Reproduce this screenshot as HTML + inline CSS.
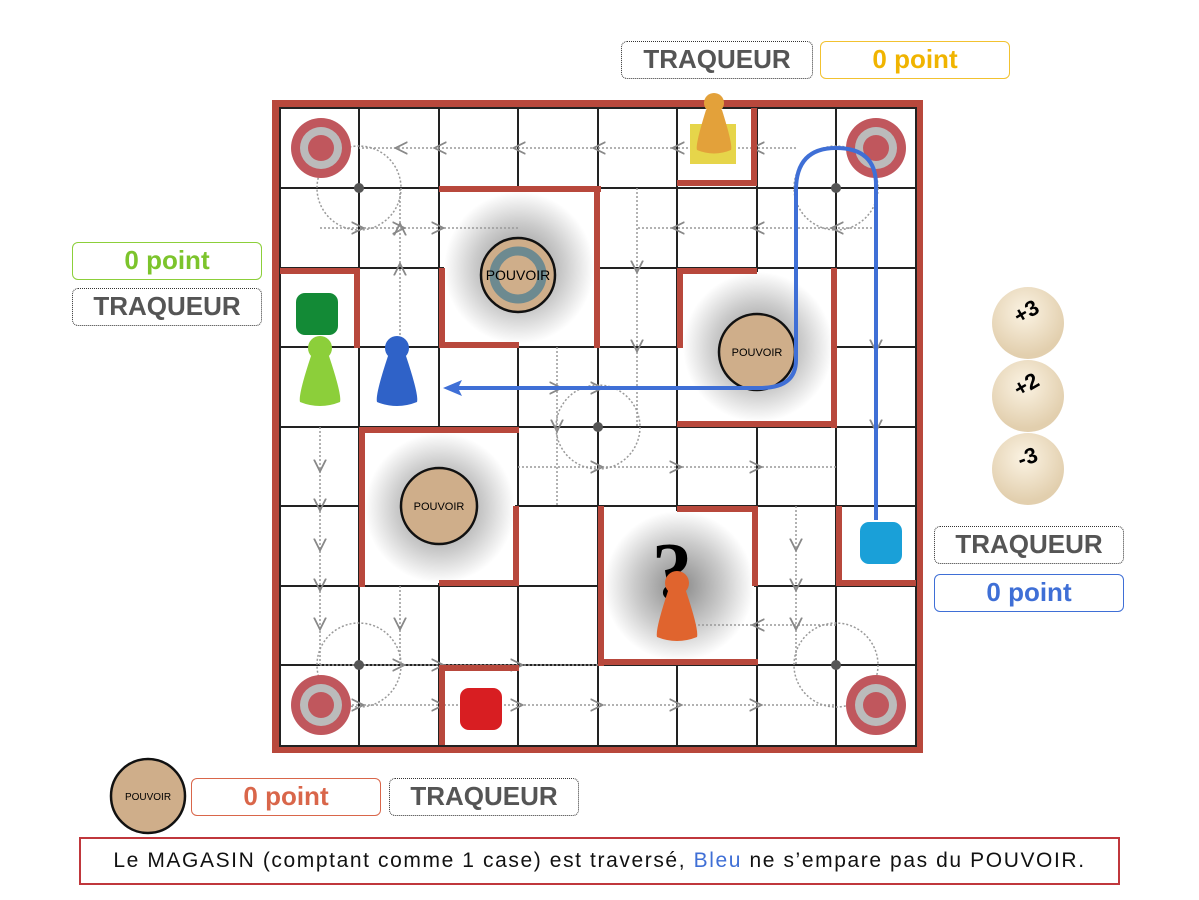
<!DOCTYPE html>
<html><head><meta charset="utf-8"><style>
html,body{margin:0;padding:0;background:#fff;width:1199px;height:900px;overflow:hidden;font-family:"Liberation Sans",sans-serif}
.lb{position:absolute;box-sizing:border-box;border-radius:6px;text-align:center;font-size:26px;line-height:34px;font-weight:bold;}
.tq{border:1.5px dotted #333;color:#555;}
</style></head><body>
<svg width="1199" height="900" style="position:absolute;left:0;top:0">
<defs>
<radialGradient id="sh" cx="50%" cy="50%" r="50%"><stop offset="0" stop-color="#888"/><stop offset="0.6" stop-color="#ccc"/><stop offset="1" stop-color="#fff"/></radialGradient>
<radialGradient id="die" cx="45%" cy="35%" r="60%"><stop offset="0" stop-color="#fbf3e3"/><stop offset="1" stop-color="#e2cfae"/></radialGradient>
<marker id="ah" markerWidth="10" markerHeight="10" refX="5" refY="5" orient="auto"><path d="M0,1 L8,5 L0,9" fill="none" stroke="#888" stroke-width="1.2"/></marker>
</defs>
<rect x="272" y="100" width="651" height="653" fill="#b8483c"/>
<rect x="280" y="108" width="636" height="638" fill="#fff"/>
<g stroke="#222" stroke-width="2">
<line x1="280" y1="188" x2="916" y2="188"/><line x1="280" y1="268" x2="916" y2="268"/><line x1="280" y1="347" x2="916" y2="347"/><line x1="280" y1="427" x2="916" y2="427"/><line x1="280" y1="506" x2="916" y2="506"/><line x1="280" y1="586" x2="916" y2="586"/><line x1="280" y1="665" x2="916" y2="665"/>
<line x1="359" y1="108" x2="359" y2="746"/><line x1="439" y1="108" x2="439" y2="746"/><line x1="518" y1="108" x2="518" y2="746"/><line x1="598" y1="108" x2="598" y2="746"/><line x1="677" y1="108" x2="677" y2="746"/><line x1="757" y1="108" x2="757" y2="746"/><line x1="836" y1="108" x2="836" y2="746"/>
<rect x="280" y="108" width="636" height="638" fill="none"/>
</g>
<rect x="444" y="192" width="150" height="152" fill="url(#sh)"/>
<rect x="683" y="272" width="150" height="150" fill="url(#sh)"/>
<rect x="365" y="433" width="150" height="150" fill="url(#sh)"/>
<rect x="604" y="511" width="150" height="150" fill="url(#sh)"/>
<g stroke="#999" stroke-width="1.5" stroke-dasharray="2 2" fill="none" marker-mid="url(#ah)">
<polyline points="796,148 757,148 677,148 598,148 518,148 439,148 400,148 359,148"/>
<polyline points="320,228 359,228 400,228 439,228 518,228"/>
<polyline points="400,347 400,268 400,228 400,188"/>
<polyline points="320,427 320,467 320,506 320,546 320,586 320,625 320,665"/>
<polyline points="320,665 400,665 439,665 518,665 598,665"/>
<polyline points="320,705 359,705 439,705 518,705 598,705 677,705 757,705 836,705"/>
<polyline points="518,467 598,467 677,467 757,467 836,467"/>
<polyline points="836,625 757,625 677,625"/>
<polyline points="796,506 796,546 796,586 796,625 796,665"/>
<polyline points="876,228 836,228 757,228 677,228 637,228"/>
<polyline points="637,188 637,268 637,347 637,427"/>
<polyline points="557,347 557,427 557,506"/>
<polyline points="400,586 400,625 400,665"/>
<polyline points="876,268 876,347 876,427 876,467"/>
<polyline points="518,388 557,388 598,388 637,388"/>
</g>
<g stroke="#999" stroke-width="1.5" stroke-dasharray="2 2" fill="none">
<circle cx="359" cy="188" r="42"/><circle cx="836" cy="188" r="42"/><circle cx="359" cy="665" r="42"/><circle cx="836" cy="665" r="42"/>
<circle cx="598" cy="427" r="42"/>
</g>
<g fill="#555"><circle cx="359" cy="188" r="5"/><circle cx="836" cy="188" r="5"/><circle cx="359" cy="665" r="5"/><circle cx="836" cy="665" r="5"/><circle cx="598" cy="427" r="5"/></g>
<g fill="#b8483c">
<rect x="439" y="186" width="162" height="6"/><rect x="594" y="186" width="6" height="162"/><rect x="439" y="268" width="6" height="80"/><rect x="439" y="342" width="80" height="6"/>
<rect x="677" y="180" width="80" height="6"/><rect x="751" y="108" width="6" height="78"/>
<rect x="280" y="268" width="80" height="6"/><rect x="354" y="268" width="6" height="80"/>
<rect x="677" y="268" width="80" height="6"/><rect x="677" y="268" width="6" height="80"/><rect x="831" y="268" width="6" height="160"/><rect x="677" y="421" width="160" height="6"/>
<rect x="359" y="427" width="160" height="6"/><rect x="359" y="427" width="6" height="160"/><rect x="513" y="506" width="6" height="80"/><rect x="439" y="580" width="80" height="6"/>
<rect x="677" y="506" width="80" height="6"/><rect x="752" y="506" width="6" height="80"/><rect x="598" y="506" width="6" height="160"/><rect x="598" y="659" width="160" height="6"/>
<rect x="836" y="506" width="6" height="80"/><rect x="836" y="580" width="80" height="6"/>
<rect x="439" y="665" width="80" height="6"/><rect x="439" y="665" width="6" height="80"/>
</g>
<g><circle cx="321" cy="148" r="30" fill="#c0575d"/><circle cx="321" cy="148" r="21" fill="#bbb"/><circle cx="321" cy="148" r="13" fill="#c0575d"/></g>
<g><circle cx="876" cy="148" r="30" fill="#c0575d"/><circle cx="876" cy="148" r="21" fill="#bbb"/><circle cx="876" cy="148" r="13" fill="#c0575d"/></g>
<g><circle cx="321" cy="705" r="30" fill="#c0575d"/><circle cx="321" cy="705" r="21" fill="#bbb"/><circle cx="321" cy="705" r="13" fill="#c0575d"/></g>
<g><circle cx="876" cy="705" r="30" fill="#c0575d"/><circle cx="876" cy="705" r="21" fill="#bbb"/><circle cx="876" cy="705" r="13" fill="#c0575d"/></g>
<g font-size="11" text-anchor="middle" font-family="Liberation Sans,sans-serif">
<circle cx="518" cy="275" r="37" fill="#cfae8a" stroke="#111" stroke-width="2.5"/><circle cx="518" cy="275" r="24" fill="none" stroke="#6d8a90" stroke-width="9"/><text x="518" y="280" font-size="14">POUVOIR</text>
<circle cx="757" cy="352" r="38" fill="#cfae8a" stroke="#111" stroke-width="2.5"/><text x="757" y="356">POUVOIR</text>
<circle cx="439" cy="506" r="38" fill="#cfae8a" stroke="#111" stroke-width="2.5"/><text x="439" y="510">POUVOIR</text>
<circle cx="148" cy="796" r="37" fill="#cfae8a" stroke="#111" stroke-width="2.5"/><text x="148" y="800" font-size="10">POUVOIR</text>
</g>
<text x="672" y="598" font-size="80" font-family="Liberation Serif,serif" font-weight="bold" text-anchor="middle">?</text>
<rect x="296" y="293" width="42" height="42" rx="9" fill="#138a36"/>
<rect x="460" y="688" width="42" height="42" rx="9" fill="#d81e22"/>
<rect x="860" y="522" width="42" height="42" rx="9" fill="#1aa0d8"/>
<rect x="690" y="124" width="46" height="40" fill="#e6d54a"/>
<path d="M876,520 L876,185 Q876,148 836,148 Q796,148 796,190 L796,360 Q796,388 760,388 L455,388" fill="none" stroke="#3f6fd6" stroke-width="4"/>
<path d="M443,388 L462,380 L458,388 L462,396 Z" fill="#3f6fd6"/>
<g fill="#8ccf3a"><circle cx="320" cy="348" r="12"/><path d="M311,356 Q298,395 300,402 Q320,410 340,402 Q342,395 329,356 Z"/></g>
<g fill="#2f62c8"><circle cx="397" cy="348" r="12"/><path d="M388,356 Q375,395 377,402 Q397,410 417,402 Q419,395 406,356 Z"/></g>
<g fill="#e0642e"><circle cx="677" cy="583" r="12"/><path d="M668,591 Q655,630 657,637 Q677,645 697,637 Q699,630 686,591 Z"/></g>
<g fill="#e3a13a"><circle cx="714" cy="103" r="10"/><path d="M706,110 Q695,145 697,150 Q714,157 731,150 Q733,145 722,110 Z"/></g>
<g font-size="22" font-weight="bold" text-anchor="middle">
<ellipse cx="1028" cy="323" rx="36" ry="36" fill="url(#die)"/><text x="1030" y="318" transform="rotate(-30 1030 318)">+3</text>
<ellipse cx="1028" cy="396" rx="36" ry="36" fill="url(#die)"/><text x="1030" y="391" transform="rotate(-30 1030 391)">+2</text>
<ellipse cx="1028" cy="469" rx="36" ry="36" fill="url(#die)"/><text x="1030" y="464" transform="rotate(-20 1030 464)">-3</text>
</g>
</svg>
<div class="lb tq" style="left:621px;top:41px;width:192px;height:38px">TRAQUEUR</div>
<div class="lb" style="left:820px;top:41px;width:190px;height:38px;border:1.5px solid #f2c230;color:#f0b400">0 point</div>
<div class="lb" style="left:72px;top:242px;width:190px;height:38px;border:1.5px solid #8ccf3a;color:#7cc42c">0 point</div>
<div class="lb tq" style="left:72px;top:288px;width:190px;height:38px">TRAQUEUR</div>
<div class="lb tq" style="left:934px;top:526px;width:190px;height:38px">TRAQUEUR</div>
<div class="lb" style="left:934px;top:574px;width:190px;height:38px;border:1.5px solid #3f6fd6;color:#3f6fd6">0 point</div>
<div class="lb" style="left:191px;top:778px;width:190px;height:38px;border:1.5px solid #d9664a;color:#d9664a">0 point</div>
<div class="lb tq" style="left:389px;top:778px;width:190px;height:38px">TRAQUEUR</div>
<div style="position:absolute;left:79px;top:837px;width:1041px;height:48px;box-sizing:border-box;border:2px solid #c0373c;text-align:center;font-size:21px;line-height:44px;color:#111;letter-spacing:1.6px;white-space:nowrap;">Le MAGASIN (comptant comme 1 case) est traversé, <span style="color:#3f6fd6">Bleu</span> ne s’empare pas du POUVOIR.</div>
</body></html>
